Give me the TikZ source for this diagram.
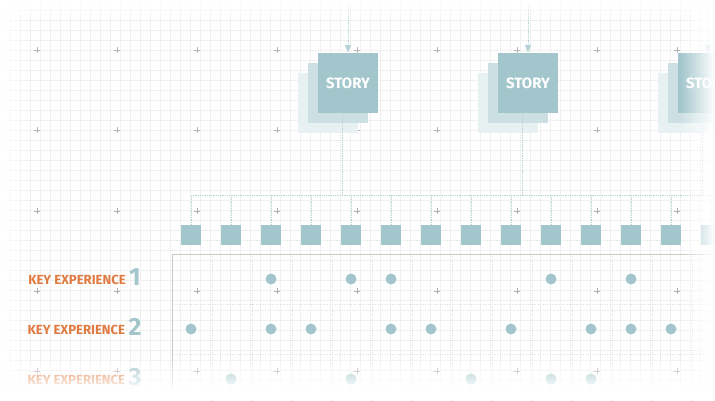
\documentclass[tikz,border=0pt]{standalone}
\usepackage{fontspec}
\setmainfont{Fira Sans}
\usetikzlibrary{arrows.meta}
\usetikzlibrary{fadings}
\definecolor{teal}{HTML}{A3C6CC}
\definecolor{orng}{HTML}{E07A40}
\definecolor{gridc}{HTML}{F0F0F0}
\definecolor{framec}{HTML}{CFC8BE}
\tikzset{
  storybox/.style={fill=teal, minimum size=60bp, inner sep=0pt, text=white, font=\bfseries\fontsize{15}{15}\selectfont},
  shadowA/.style={fill=teal!55, minimum size=60bp, inner sep=0pt},
  shadowB/.style={fill=teal!25, minimum size=60bp, inner sep=0pt},
  beat/.style={fill=teal, minimum size=20bp, inner sep=0pt},
  hit/.style={fill=teal, circle, minimum size=11bp, inner sep=0pt},
  link/.style={teal!80, densely dotted, line width=0.8bp},
  kelabel/.style={anchor=east, text=orng, font=\bfseries\fontsize{13.2}{13}\selectfont, inner sep=1bp},
  kenum/.style={text=teal, font=\bfseries\fontsize{25}{25}\selectfont, inner sep=1bp}
}
\begin{document}
\begin{tikzpicture}[x=1bp, y=-1bp]
\useasboundingbox (0,0) rectangle (715,400);
% background grid
\draw[gridc, line width=0.4bp] (0,0) grid[step=10bp] (715,400);
\foreach \gx in {37,117,...,717}
  \foreach \gy in {50,130,211,291,371}
    \draw[gray!60, line width=0.4bp] (\gx-3,\gy) -- (\gx+3,\gy) (\gx,\gy-3) -- (\gx,\gy+3);
% stories
\foreach \sx/\nm in {348/one, 528/two, 708/three} {
  \node[shadowB] at (\sx-20,103) {};
  \node[shadowA] at (\sx-10,93) {};
  \node[storybox] (\nm) at (\sx,83) {STORY};
  \coordinate (\nm top) at (\sx,0);
  \draw[link, -{Triangle[width=6bp,length=8bp]}] (\nm top) -- (\nm.north);
  \coordinate (\nm bus) at ([xshift=-6bp]\nm.south |- 0,195);
  \draw[link] ([xshift=-6bp]\nm.south) -- (\nm bus);
}
\coordinate (busL) at (191,195);
\coordinate (busR) at (715,195);
\draw[link] (busL) -- (busR);
% beats
\foreach \i in {0,...,13} {
  \node[beat] (b\i) at (191+40*\i,235) {};
  \draw[link] (b\i.north) -- (b\i.north |- busL);
}
% panel
\draw[gray!25, dotted] (172,304) -- (715,304) (172,354) -- (715,354);
\foreach \vx in {212,252,...,712}
  \draw[gray!25, dotted] (\vx,254) -- (\vx,400);
\draw[framec, line width=0.8bp] (172,400) -- (172,254) -- (715,254);
% key experiences
\foreach \r/\y in {1/279, 2/329, 3/379} {
  \node[kenum] (n\r) at (135,\y-2) {\r};
  \node[kelabel] (k\r) at ([xshift=-1bp]n\r.west |- 0,\y+1) {KEY EXPERIENCE};
}
\foreach \hx in {271,351,391,551,631} \node[hit] (h1-\hx) at (\hx,279) {};
\foreach \hx in {191,271,311,391,431,511,591,631,671} \node[hit] (h2-\hx) at (\hx,329) {};
\foreach \hx in {231,351,471,551,591} \node[hit] (h3-\hx) at (\hx,379) {};
% fades
\fill[white, path fading=north] (0,355) rectangle (715,392);
\fill[white] (0,392) rectangle (715,400);
\fill[white, path fading=west] (680,0) rectangle (715,400);
\fill[white, path fading=east] (0,0) rectangle (25,400);
\fill[white, path fading=south] (0,0) rectangle (715,20);
\end{tikzpicture}
\end{document}
